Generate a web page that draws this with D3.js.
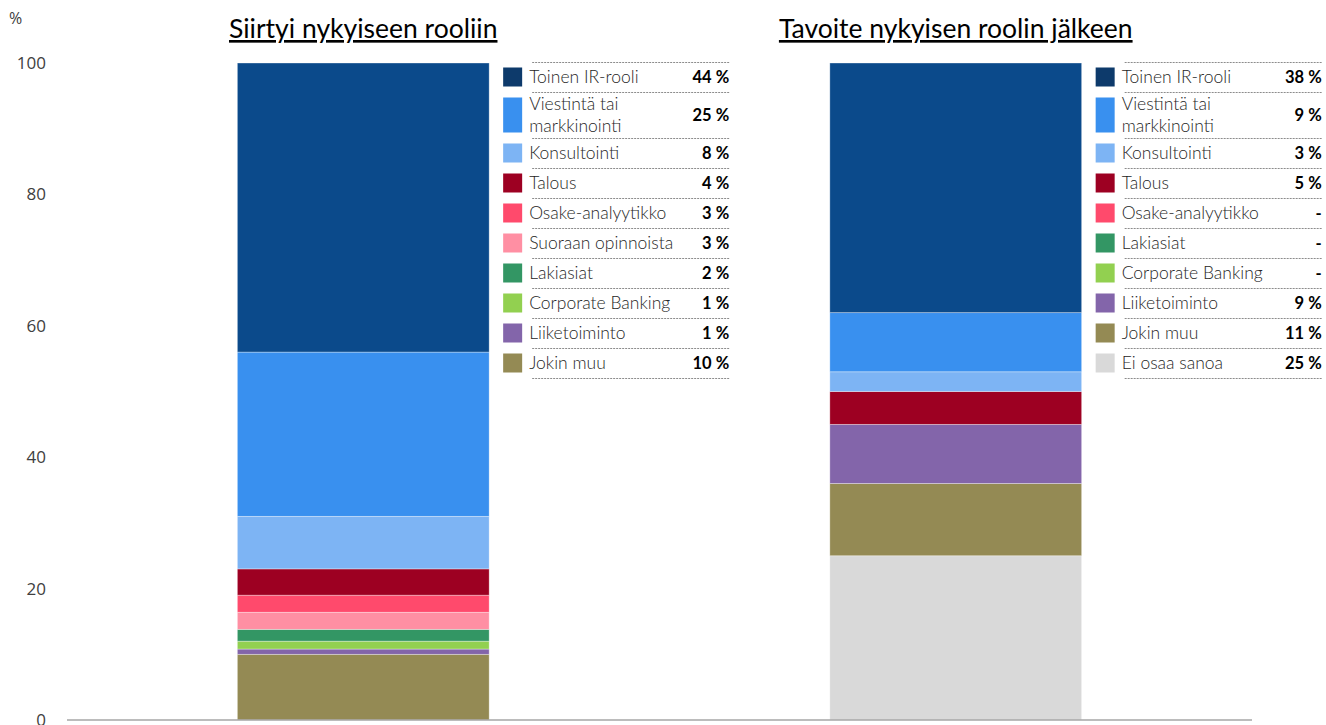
<!DOCTYPE html>
<html>
<head>
<meta charset="utf-8">
<script src="https://cdn.jsdelivr.net/npm/d3@7"></script>
<style>
  body { margin: 0; background: #fff; }
  svg { display: block; }
</style>
</head>
<body>
<div id="chart"></div>
<script>
// data
const groups = ["Siirtyi nykyiseen rooliin", "Tavoite nykyisen roolin jälkeen"];

const leftCategories = ["Toinen IR-rooli", "Viestintä tai markkinointi", "Konsultointi", "Talous",
  "Osake-analyytikko", "Suoraan opinnoista", "Lakiasiat", "Corporate Banking", "Liiketoiminto", "Jokin muu"];
const leftValues = [44, 25, 8, 4, 2.6, 2.6, 1.8, 1.2, 0.8, 10];

const rightCategories = ["Toinen IR-rooli", "Viestintä tai markkinointi", "Konsultointi", "Talous",
  "Osake-analyytikko", "Lakiasiat", "Corporate Banking", "Liiketoiminto", "Jokin muu", "Ei osaa sanoa"];
const rightValues = [38, 9, 3, 5, 0, 0, 0, 9, 11, 25];

const yTicks = [0, 20, 40, 60, 80, 100];

const colorCategories = ["Toinen IR-rooli", "Viestintä tai markkinointi", "Konsultointi", "Talous",
  "Osake-analyytikko", "Suoraan opinnoista", "Lakiasiat", "Corporate Banking", "Liiketoiminto", "Jokin muu", "Ei osaa sanoa"];
const colorValues = ["#0b4a8b", "#3990ef", "#7db4f4", "#9d0022", "#ff4a6c", "#ff8fa3", "#339664", "#92d050", "#8365aa", "#948a54", "#d9d9d9"];

const width = 1326, height = 725;
const margin = {top: 63, right: 74, bottom: 5, left: 67};

const svg = d3.select("#chart").append("svg")
  .attr("width", width)
  .attr("height", height);

const color = d3.scaleOrdinal().domain(colorCategories).range(colorValues);

const x = d3.scaleBand()
  .domain(groups)
  .range([margin.left, width - margin.right])
  .paddingInner(0.575)
  .paddingOuter(0.2875);

const y = d3.scaleLinear()
  .domain([0, 100])
  .range([height - margin.bottom, margin.top]);

// y axis labels
svg.append("g")
  .attr("transform", "translate(" + margin.left + ",0)")
  .call(d3.axisLeft(y).tickValues(yTicks).tickSize(0).tickPadding(21))
  .call(g => g.select(".domain").remove())
  .selectAll("text")
    .style("font-family", "'Open Sans', sans-serif")
    .style("font-size", "17px")
    .attr("fill", "#404040");

svg.append("text")
  .attr("x", 9)
  .attr("y", 24)
  .style("font-family", "'Open Sans', sans-serif")
  .style("font-size", "16px")
  .attr("fill", "#404040")
  .text("%");

const series = [
  {group: groups[0], cats: leftCategories, vals: leftValues},
  {group: groups[1], cats: rightCategories, vals: rightValues}
];

series.forEach(s => {
  const bx = x(s.group), bw = x.bandwidth();

  // stack from bottom: last legend entry sits at the base
  let acc = 0;
  const segs = [];
  for (let i = s.cats.length - 1; i >= 0; i--) {
    segs.push({cat: s.cats[i], y0: acc, y1: acc + s.vals[i]});
    acc += s.vals[i];
  }

  svg.append("g").selectAll("rect")
    .data(segs.filter(d => d.y1 > d.y0))
    .enter()
    .append("rect")
      .attr("x", bx)
      .attr("width", bw)
      .attr("y", d => y(d.y1))
      .attr("height", d => y(d.y0) - y(d.y1))
      .attr("fill", d => color(d.cat))
      .attr("stroke", "rgba(255,255,255,0.45)")
      .attr("stroke-width", 0.75);

  // title
  svg.append("text")
    .attr("x", bx + bw / 2)
    .attr("y", 38)
    .attr("text-anchor", "middle")
    .style("font-family", "Lato, sans-serif")
    .style("font-size", "26.5px")
    .style("text-decoration", "underline")
    .attr("fill", "#000")
    .text(s.group);

  // legend
  const lx = bx + bw;
  const leg = svg.append("g");
  let ry = 62;
  const sep = (yy) => leg.append("line")
    .attr("x1", lx + 43).attr("x2", lx + 241)
    .attr("y1", yy + 0.5).attr("y2", yy + 0.5)
    .attr("stroke", "#8c8c8c")
    .attr("stroke-width", 1)
    .attr("stroke-dasharray", "2,1");
  sep(ry);

  s.cats.forEach((cat, i) => {
    const t = leg.append("text")
      .attr("x", lx + 40)
      .style("font-family", "Lato, sans-serif")
      .style("font-size", "17.5px")
      .style("font-weight", 300)
      .attr("fill", "#262626")
      .text(cat);
    let lines = [cat];
    if (t.node().getComputedTextLength() > 165) {
      const w = cat.split(" ");
      lines = [w.slice(0, w.length - 1).join(" "), w[w.length - 1]];
    }
    const rh = 14 + 16 * lines.length;
    const cy = ry + rh / 2;
    t.text(null);
    lines.forEach((ln, k) => {
      t.append("tspan")
        .attr("x", lx + 40)
        .attr("y", cy + 6 + (k - (lines.length - 1) / 2) * 22)
        .text(ln);
    });

    leg.append("rect")
      .attr("x", lx + 14)
      .attr("y", cy - (rh - 11) / 2)
      .attr("width", 19)
      .attr("height", rh - 11)
      .attr("fill", cat === "Toinen IR-rooli" ? "#0d3a6b" : color(cat));

    const v = s.vals[i];
    leg.append("text")
      .attr("x", lx + 240)
      .attr("y", cy + 6)
      .attr("text-anchor", "end")
      .style("font-family", "Lato, sans-serif")
      .style("font-size", "16.5px")
      .style("font-weight", 700)
      .attr("fill", "#000")
      .text(v > 0 ? Math.round(v) + " %" : "-");

    ry += rh;
    sep(ry);
  });
});

// baseline
svg.append("line")
  .attr("x1", margin.left)
  .attr("x2", width - margin.right)
  .attr("y1", y(0))
  .attr("y2", y(0))
  .attr("stroke", "#a6a6a6")
  .attr("stroke-width", 1.5);
</script>
</body>
</html>
